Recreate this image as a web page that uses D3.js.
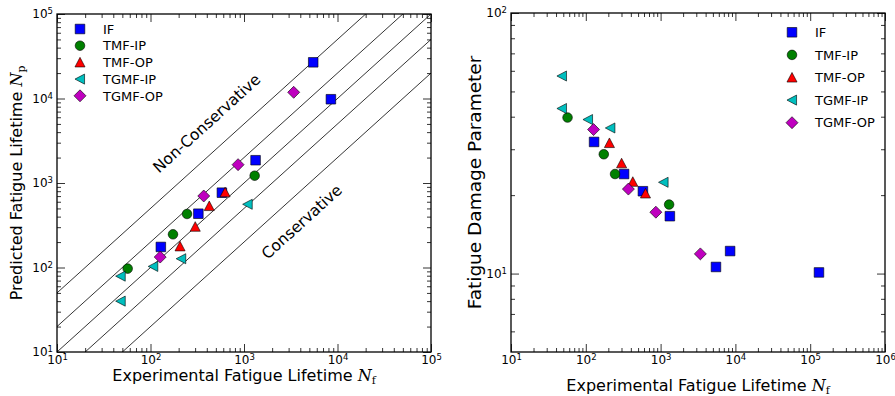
<!DOCTYPE html>
<html><head><meta charset="utf-8">
<script src="https://cdnjs.cloudflare.com/ajax/libs/d3/7.8.5/d3.min.js"></script>
<style>
body{margin:0;background:#fff;}
svg{display:block;font-family:"DejaVu Sans",sans-serif;}
</style></head>
<body><svg id="c" width="895" height="396"></svg>
<script>
// ---------------- data ----------------
const categories = ["IF", "TMF-IP", "TMF-OP", "TGMF-IP", "TGMF-OP"];
const colors = ["#0000ff", "#008000", "#ff0000", "#00bfbf", "#bf00bf"];
const markers = ["square", "circle", "triangleUp", "triangleLeft", "diamond"];

// experimental lifetime N_f
const nfIF     = [129, 325, 580, 1330, 5500, 8500, 131000];
const nfTMFIP  = [57, 174, 246, 1300];
const nfTMFOP  = [207, 301, 425, 628];
const nfTGMFIP = [48, 48, 107, 213, 1095];
const nfTGMFOP = [127, 371, 864, 3400];

// predicted lifetime N_p (left chart)
const npIF     = [175, 433, 768, 1860, 26800, 9800, null];
const npTMFIP  = [97, 247, 430, 1220];
const npTMFOP  = [178, 304, 534, 776];
const npTGMFIP = [79, 40, 103, 127, 560];
const npTGMFOP = [133, 702, 1648, 11840];

// fatigue damage parameter (right chart)
const dpIF     = [32.0, 24.1, 20.7, 16.6, 10.6, 12.2, 10.1];
const dpTMFIP  = [39.7, 28.7, 24.1, 18.4];
const dpTMFOP  = [31.7, 26.5, 22.5, 20.3];
const dpTGMFIP = [57.3, 43.0, 39.0, 36.2, 22.4];
const dpTGMFOP = [35.7, 21.1, 17.2, 11.9];

// scatter-band factors N_p = k * N_f
const bandFactors = [5, 2, 1, 0.5, 0.2];

const leftXTicks  = [1e1, 1e2, 1e3, 1e4, 1e5];
const leftYTicks  = [1e1, 1e2, 1e3, 1e4, 1e5];
const rightXTicks = [1e1, 1e2, 1e3, 1e4, 1e5, 1e6];
const rightYTicks = [1e1, 1e2];

const nfAll = [nfIF, nfTMFIP, nfTMFOP, nfTGMFIP, nfTGMFOP];
const npAll = [npIF, npTMFIP, npTMFOP, npTGMFIP, npTGMFOP];
const dpAll = [dpIF, dpTMFIP, dpTMFOP, dpTGMFIP, dpTGMFOP];

// ---------------- drawing ----------------
const svg = d3.select("#c");

function markerPath(type) {
  const r = 4.8;
  switch (type) {
    case "square": return `M${-r},${-r}H${r}V${r}H${-r}Z`;
    case "circle": return d3.symbol(d3.symbolCircle, Math.PI * r * r)();
    case "triangleUp": return `M0,${-r * 1.05}L${r * 1.05},${r * 0.95}L${-r * 1.05},${r * 0.95}Z`;
    case "triangleLeft": return `M${-r * 1.05},0L${r * 0.95},${-r * 1.05}L${r * 0.95},${r * 1.05}Z`;
    case "diamond": { const d = r * 1.25; return `M0,${-d}L${d},0L0,${d}L${-d},0Z`; }
  }
}

function minorTicks(lo, hi) {
  const out = [];
  for (let e = Math.floor(Math.log10(lo)); e <= Math.ceil(Math.log10(hi)); e++) {
    for (let m = 2; m <= 9; m++) {
      const v = m * Math.pow(10, e);
      if (v > lo * 1.0001 && v < hi * 0.9999) out.push(v);
    }
  }
  return out;
}

function supLabels(sel) {
  sel.selectAll(".tick text").each(function (d) {
    const t = d3.select(this);
    t.text("10");
    t.append("tspan").attr("dy", "-0.5em").attr("font-size", "8.5px").text(Math.round(Math.log10(d)));
  });
}

function drawAxes(g, x, y, w, h, xT, yT, xMinor, yMinor) {
  const fs = "12px";
  const major = 8, minor = 4;
  // bottom
  const gb = g.append("g").attr("transform", `translate(0,${h})`)
    .call(d3.axisBottom(x).tickValues(xT).tickSize(-major).tickSizeOuter(0).tickPadding(3.5));
  gb.call(supLabels);
  g.append("g").attr("transform", `translate(0,${h})`)
    .call(d3.axisBottom(x).tickValues(xMinor).tickSize(-minor).tickSizeOuter(0).tickFormat(""));
  // top
  g.append("g").call(d3.axisTop(x).tickValues(xT).tickSize(-major).tickSizeOuter(0).tickFormat(""));
  g.append("g").call(d3.axisTop(x).tickValues(xMinor).tickSize(-minor).tickSizeOuter(0).tickFormat(""));
  // left
  const gl = g.append("g")
    .call(d3.axisLeft(y).tickValues(yT).tickSize(-major).tickSizeOuter(0).tickPadding(4));
  gl.call(supLabels);
  g.append("g").call(d3.axisLeft(y).tickValues(yMinor).tickSize(-minor).tickSizeOuter(0).tickFormat(""));
  // right
  g.append("g").attr("transform", `translate(${w},0)`)
    .call(d3.axisRight(y).tickValues(yT).tickSize(-major).tickSizeOuter(0).tickFormat(""));
  g.append("g").attr("transform", `translate(${w},0)`)
    .call(d3.axisRight(y).tickValues(yMinor).tickSize(-minor).tickSizeOuter(0).tickFormat(""));
  g.selectAll(".domain").remove();
  g.selectAll(".tick line").attr("stroke", "#000").attr("stroke-width", 0.8);
  g.selectAll(".tick text").attr("font-family", "DejaVu Sans").attr("font-size", fs).attr("fill", "#000");
  g.append("rect").attr("width", w).attr("height", h).attr("fill", "none").attr("stroke", "#000").attr("stroke-width", 1.3);
}

function axisLabel(g, x, y, fs, main, italic, sub, rotate) {
  const t = g.append("text").attr("font-size", fs + "px").attr("text-anchor", "middle")
    .attr("transform", `translate(${x},${y})` + (rotate ? " rotate(-90)" : ""));
  t.append("tspan").text(main);
  if (italic) {
    t.append("tspan").attr("font-family", "DejaVu Serif").attr("font-style", "italic").text(italic);
    t.append("tspan").attr("font-family", "DejaVu Serif").attr("font-size", (fs * 0.68) + "px").attr("dy", "0.25em").text(sub);
  }
}

function drawPoints(g, x, y, xs, ys) {
  categories.forEach((c, i) => {
    xs[i].forEach((xv, j) => {
      const yv = ys[i][j];
      if (yv == null) return;
      g.append("path").attr("d", markerPath(markers[i]))
        .attr("transform", `translate(${x(xv)},${y(yv)})`)
        .attr("fill", colors[i]).attr("stroke", "#000").attr("stroke-width", 0.6);
    });
  });
}

function drawLegend(g, x0, y0, dy, fs) {
  categories.forEach((c, i) => {
    g.append("path").attr("d", markerPath(markers[i]))
      .attr("transform", `translate(${x0},${y0 + i * dy})`)
      .attr("fill", colors[i]).attr("stroke", "#000").attr("stroke-width", 0.6);
    g.append("text").attr("x", x0 + 23).attr("y", y0 + i * dy + 4.7)
      .attr("font-size", fs).text(c);
  });
}

// ----- left chart -----
{
  const L = { x: 57, y: 14, w: 374, h: 338 };
  const g = svg.append("g").attr("transform", `translate(${L.x},${L.y})`);
  const x = d3.scaleLog().domain([1e1, 1e5]).range([0, L.w]);
  const y = d3.scaleLog().domain([1e1, 1e5]).range([L.h, 0]);

  svg.append("clipPath").attr("id", "clipL").append("rect").attr("width", L.w).attr("height", L.h);
  const lines = g.append("g").attr("clip-path", "url(#clipL)");
  const line = d3.line().x(d => x(d[0])).y(d => y(d[1]));
  bandFactors.forEach(k => {
    const pts = [[1, k], [1e6, 1e6 * k]];
    lines.append("path").attr("d", line(pts)).attr("fill", "none").attr("stroke", "#000").attr("stroke-width", 0.8);
  });

  const ang = Math.atan2(y(1e3) - y(1e2), x(1e3) - x(1e2)) * 180 / Math.PI;
  g.append("text").attr("font-size", "15.5px").attr("text-anchor", "middle")
    .attr("transform", `translate(${206.7 - L.x},${123.3 - L.y}) rotate(${ang})`)
    .attr("dy", "0.35em").text("Non-Conservative");
  g.append("text").attr("font-size", "15.5px").attr("text-anchor", "middle")
    .attr("transform", `translate(${301.7 - L.x},${221.7 - L.y}) rotate(${ang})`)
    .attr("dy", "0.35em").text("Conservative");

  drawAxes(g, x, y, L.w, L.h, leftXTicks, leftYTicks, minorTicks(1e1, 1e5), minorTicks(1e1, 1e5));
  drawPoints(g, x, y, nfAll, npAll);
  drawLegend(g, 80 - L.x, 29 - L.y, 16.7, "13px");

  axisLabel(svg, L.x + L.w / 2, 381, 16, "Experimental Fatigue Lifetime ", "N", "f", false);
  axisLabel(svg, 22, L.y + L.h / 2, 16, "Predicted Fatigue Lifetime ", "N", "p", true);
}

// ----- right chart -----
{
  const R = { x: 511, y: 13, w: 374, h: 339 };
  const g = svg.append("g").attr("transform", `translate(${R.x},${R.y})`);
  const x = d3.scaleLog().domain([1e1, 1e6]).range([0, R.w]);
  const y = d3.scaleLog().domain([5, 100]).range([R.h, 0]);

  drawAxes(g, x, y, R.w, R.h, rightXTicks, rightYTicks, minorTicks(1e1, 1e6), minorTicks(5, 100));
  drawPoints(g, x, y, nfAll, dpAll);
  drawLegend(g, 792 - R.x, 32.3 - R.y, 22.6, "13px");

  axisLabel(svg, R.x + R.w / 2, 391, 16, "Experimental Fatigue Lifetime ", "N", "f", false);
  axisLabel(svg, 481, R.y + R.h / 2, 18.5, "Fatigue Damage Parameter", null, null, true);
}
</script></body></html>
